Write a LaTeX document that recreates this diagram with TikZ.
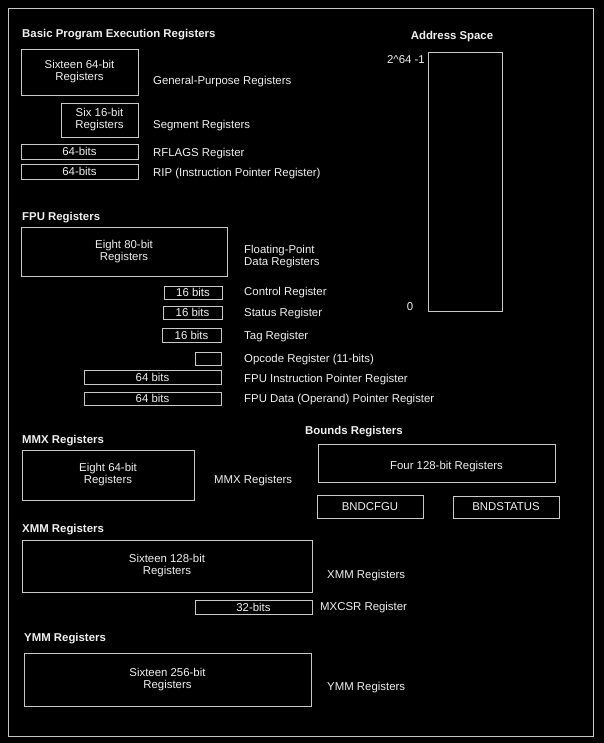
\documentclass[tikz,border=0pt]{standalone}
\usepackage{fontspec}
\setmainfont{Liberation Sans}
\definecolor{boxgray}{RGB}{200,200,200}
\definecolor{txt}{RGB}{240,240,240}
\newcommand{\regfont}{\fontsize{11.4}{12}\selectfont}
\newcommand{\ttlfont}{\fontsize{11.4}{12}\selectfont\bfseries}
\begin{document}
\begin{tikzpicture}[x=1pt,y=-1pt,
  reg/.style={draw=boxgray, line width=0.9pt, inner sep=0pt, text=txt, align=center, font=\regfont},
  lbl/.style={anchor=west, text=txt, inner sep=0pt, align=left, font=\regfont, yshift=-2pt},
  ttl/.style={anchor=west, text=txt, inner sep=0pt, font=\ttlfont, yshift=-2pt}]
\fill[black] (0,0) rectangle (604,743);
\useasboundingbox (0,0) rectangle (604,743);
\node[draw=boxgray, line width=0.9pt, minimum width=585, minimum height=728, inner sep=0pt] (frame) at (300.5,372) {};
% Basic
\node[ttl] (t1) at (22,33) {Basic Program Execution Registers};
\node[reg, minimum width=117, minimum height=46] (gpr) at (79.5,72) {Sixteen 64-bit\\Registers};
\node[lbl] (gprl) at (153,80) {General-Purpose Registers};
\node[reg, minimum width=77, minimum height=34] (seg) at (99.5,120) {Six 16-bit\\Registers};
\node[lbl] (segl) at (153,124) {Segment Registers};
\node[reg, minimum width=117, minimum height=15] (rfl) at (79.5,151.5) {64-bits};
\node[lbl] (rfll) at (153,152) {RFLAGS Register};
\node[reg, minimum width=117, minimum height=15] (rip) at (79.5,171.5) {64-bits};
\node[lbl] (ripl) at (153,172) {RIP (Instruction Pointer Register)};
% Address space
\node[ttl, anchor=center] (t2) at (452,35) {Address Space};
\node[reg, minimum width=74, minimum height=259] (addr) at (465,181.5) {};
\node[lbl, anchor=east] (top) at (425,58) {2\textasciicircum64 -1};
\node[lbl, anchor=center] (zero) at (410,305) {0};
% FPU
\node[ttl] (t3) at (22,216) {FPU Registers};
\node[reg, minimum width=206, minimum height=49] (fpd) at (124,251.5) {Eight 80-bit\\Registers};
\node[lbl] (fpdl) at (244,255) {Floating-Point\\Data Registers};
\node[reg, minimum width=58, minimum height=13] (ctrl) at (193,292.5) {16 bits};
\node[lbl] (ctrll) at (244,291) {Control Register};
\node[reg, minimum width=59, minimum height=13] (stat) at (192.5,312.5) {16 bits};
\node[lbl] (statl) at (244,312) {Status Register};
\node[reg, minimum width=59, minimum height=14] (tag) at (191.5,335) {16 bits};
\node[lbl] (tagl) at (244,335) {Tag Register};
\node[reg, minimum width=26, minimum height=13] (opc) at (208,358.5) {};
\node[lbl] (opcl) at (244,358) {Opcode Register (11-bits)};
\node[reg, minimum width=137, minimum height=14] (fip) at (152.5,377) {64 bits};
\node[lbl] (fipl) at (244,378) {FPU Instruction Pointer Register};
\node[reg, minimum width=137, minimum height=13] (fdp) at (152.5,398.5) {64 bits};
\node[lbl] (fdpl) at (244,398) {FPU Data (Operand) Pointer Register};
% MMX
\node[ttl] (t4) at (22,439) {MMX Registers};
\node[reg, minimum width=172, minimum height=50] (mmx) at (108,475) {Eight 64-bit\\Registers};
\node[lbl] (mmxl) at (214,479) {MMX Registers};
% Bounds
\node[ttl] (t5) at (305,430) {Bounds Registers};
\node[reg, minimum width=237, minimum height=38] (bnd) at (436.5,463) {\raisebox{-3.5pt}[\height][\depth]{\hspace*{20pt}Four 128-bit Registers}};
\node[reg, minimum width=106, minimum height=23] (cfg) at (370,506.5) {BNDCFGU};
\node[reg, minimum width=106, minimum height=22] (bst) at (506,507) {BNDSTATUS};
% XMM
\node[ttl] (t6) at (22,528) {XMM Registers};
\node[reg, minimum width=290, minimum height=52] (xmm) at (167,566) {Sixteen 128-bit\\Registers};
\node[lbl] (xmml) at (327,574) {XMM Registers};
\node[reg, minimum width=117, minimum height=14] (mxcsr) at (253.5,607) {32-bits};
\node[lbl] (mxcsrl) at (320,606) {MXCSR Register};
% YMM
\node[ttl] (t7) at (24,637) {YMM Registers};
\node[reg, minimum width=287, minimum height=53] (ymm) at (167.5,679.5) {Sixteen 256-bit\\Registers};
\node[lbl] (ymml) at (327,686) {YMM Registers};
\end{tikzpicture}
\end{document}
